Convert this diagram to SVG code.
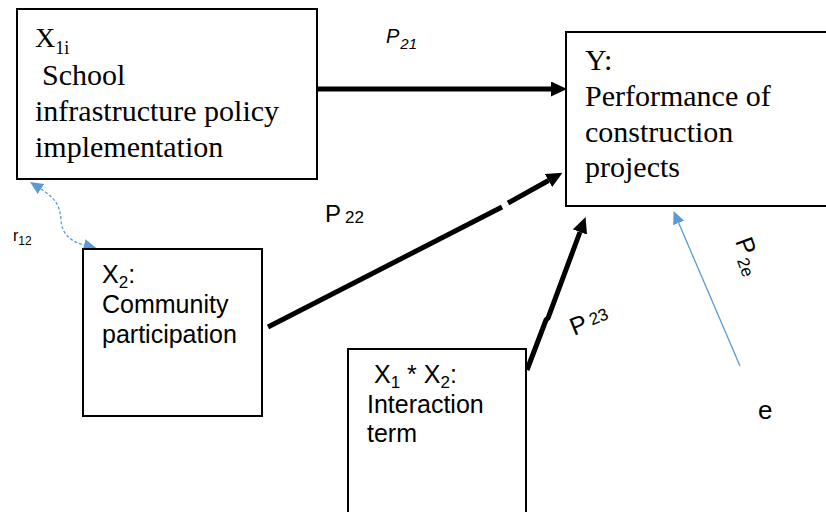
<svg xmlns="http://www.w3.org/2000/svg" width="826" height="512" viewBox="0 0 826 512">
<style>
.box{fill:#fff;stroke:#000;stroke-width:2}
.serif{font-family:"Liberation Serif","Times New Roman",serif;fill:#000}
.sans{font-family:"Liberation Sans",Arial,sans-serif;fill:#000}
.thick{stroke:#000;stroke-width:5;fill:none}
.blue{stroke:#5b9bd5;stroke-width:1.3;fill:none}
</style>
<defs>
<marker id="ah" markerUnits="userSpaceOnUse" markerWidth="16" markerHeight="15" refX="0" refY="7.5" orient="auto">
<path d="M0,0 L16,7.5 L0,15 z" fill="#000"/>
</marker>
<marker id="bh" markerUnits="userSpaceOnUse" markerWidth="13" markerHeight="12" refX="0" refY="6" orient="auto-start-reverse">
<path d="M0,0 L13,6 L0,12 z" fill="#5b9bd5"/>
</marker>
</defs>
<g id="connectors">
<line class="thick" x1="318" y1="89" x2="551" y2="89" marker-end="url(#ah)"/>
<line class="thick" x1="268" y1="327" x2="502" y2="207"/>
<line class="thick" x1="508" y1="203" x2="548.5" y2="180.5" marker-end="url(#ah)"/>
<polyline class="thick" points="527,370 546,320 548,318 580,232" marker-end="url(#ah)"/>
<line class="blue" x1="740" y1="366" x2="678.7" y2="223" marker-end="url(#bh)"/>
<path class="blue" stroke-dasharray="3,2" d="M41,189 C55,198 60,205 61,220 C62,235 72,242 84,245" marker-start="url(#bh)" marker-end="url(#bh)"/>
</g>
<g id="labels">
<text class="sans" font-style="italic" font-size="20" x="386" y="43">P<tspan font-size="15" dx="1" dy="6">21</tspan></text>
<text class="sans" font-size="24" x="325" y="222">P<tspan font-size="17" dx="4" dy="1">22</tspan></text>
<text class="sans" font-size="25" transform="translate(574,336) rotate(-22)">P<tspan font-size="17" dx="4" dy="-3">23</tspan></text>
<text class="sans" font-size="25" transform="translate(735,241) rotate(70)">P<tspan font-size="17" dx="2" dy="5">2e</tspan></text>
<text class="sans" font-size="16" x="13" y="241">r<tspan font-size="12" dy="4">12</tspan></text>
<text class="sans" font-size="26" x="758" y="419">e</text>
</g>
<g id="node-x1">
<rect class="box" x="17" y="9" width="300" height="170"/>
<text class="serif" font-size="28" x="35" y="47">X<tspan font-size="18" dy="7">1i</tspan></text>
<text class="serif" font-size="30" x="42" y="85">School</text>
<text class="serif" font-size="30" x="35" y="121">infrastructure policy</text>
<text class="serif" font-size="30" x="35" y="157">implementation</text>
</g>
<g id="node-y">
<rect class="box" x="566" y="32" width="270" height="174"/>
<text class="serif" font-size="30" x="585" y="70">Y:</text>
<text class="serif" font-size="30" x="585" y="106">Performance of</text>
<text class="serif" font-size="30" x="585" y="142">construction</text>
<text class="serif" font-size="30" x="585" y="177">projects</text>
</g>
<g id="node-x2">
<rect class="box" x="83" y="249" width="179" height="167"/>
<text class="sans" font-size="25" x="102" y="283">X<tspan font-size="17" dy="5">2</tspan><tspan dy="-5">:</tspan></text>
<text class="sans" font-size="25" x="102" y="313">Community</text>
<text class="sans" font-size="25" x="102" y="343">participation</text>
</g>
<g id="node-x1x2">
<rect class="box" x="348" y="349" width="178" height="170"/>
<text class="sans" font-size="25" x="374" y="383">X<tspan font-size="17" dy="5">1</tspan><tspan dy="-5"> * X</tspan><tspan font-size="17" dy="5">2</tspan><tspan dy="-5">:</tspan></text>
<text class="sans" font-size="25" x="367" y="413">Interaction</text>
<text class="sans" font-size="25" x="367" y="442">term</text>
</g>
</svg>
